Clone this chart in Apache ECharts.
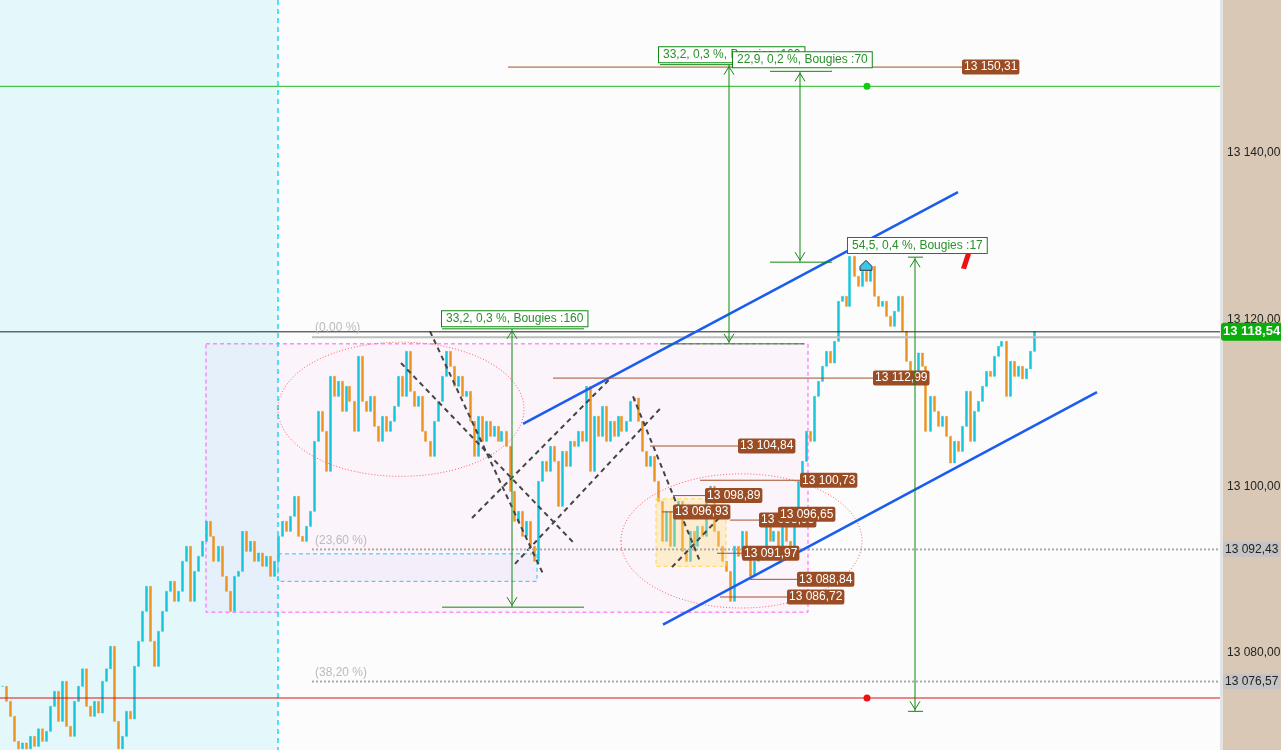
<!DOCTYPE html>
<html>
<head>
<meta charset="utf-8">
<title>Graphique</title>
<script src="https://cdn.jsdelivr.net/npm/echarts@6/dist/echarts.min.js"></script>
<style>
html, body { margin: 0; padding: 0; background: #fcfcfc; }
#chart { width: 1281px; height: 750px; }
</style>
</head>
<body>
<div id="chart"></div>
<script>
// cours de clôture (une bougie ~ 4 px)
var closes = [
    13076.0, 13074.2, 13072.4, 13069.4, 13068.5, 13069.2, 13068.5, 13070.0, 13068.8, 13070.9,
    13069.4, 13070.6, 13073.6, 13075.4, 13071.8, 13076.6, 13071.2, 13070.0, 13074.2, 13076.0,
    13078.1, 13073.6, 13072.4, 13074.2, 13072.8, 13076.6, 13078.1, 13080.8, 13071.8, 13068.5,
    13070.0, 13073.0, 13072.1, 13078.4, 13081.4, 13085.0, 13088.0, 13081.4, 13078.4, 13082.6,
    13085.0, 13087.4, 13088.6, 13086.2, 13087.4, 13091.0, 13092.8, 13086.2, 13089.8, 13091.6,
    13093.4, 13095.8, 13094.0, 13091.0, 13092.8, 13089.2, 13087.4, 13085.0, 13089.2, 13089.8,
    13094.6, 13092.2, 13093.4, 13091.0, 13092.0, 13090.4, 13091.6, 13089.2, 13091.0, 13094.0,
    13095.8, 13094.6, 13096.4, 13098.8, 13094.0, 13093.4, 13095.2, 13097.0, 13105.4, 13109.0,
    13106.6, 13101.8, 13113.2, 13110.8, 13112.6, 13109.0, 13112.0, 13110.2, 13106.6, 13115.6,
    13110.2, 13109.0, 13110.8, 13107.2, 13105.4, 13108.4, 13106.6, 13107.8, 13109.6, 13113.2,
    13110.8, 13116.2, 13111.4, 13109.6, 13110.8, 13106.6, 13105.4, 13103.6, 13107.8, 13110.2,
    13113.2, 13116.2, 13114.4, 13112.0, 13113.2, 13110.8, 13111.4, 13107.8, 13103.6, 13108.4,
    13105.4, 13107.8, 13106.0, 13107.2, 13105.4, 13106.6, 13104.8, 13099.4, 13095.8, 13097.0,
    13094.0, 13095.8, 13092.8, 13091.0, 13100.6, 13103.0, 13101.8, 13104.8, 13103.0, 13097.6,
    13104.2, 13102.4, 13105.4, 13104.8, 13106.6, 13105.4, 13112.0, 13101.8, 13108.4, 13106.0,
    13109.6, 13105.4, 13107.8, 13106.0, 13108.4, 13106.6, 13107.8, 13110.2, 13110.6, 13107.8,
    13104.2, 13102.4, 13103.6, 13100.6, 13098.2, 13093.4, 13097.0, 13092.8, 13096.4, 13098.2,
    13092.2, 13091.0, 13094.6, 13092.8, 13095.2, 13094.0, 13098.2, 13100.0, 13094.6, 13092.8,
    13091.0, 13089.8, 13086.2, 13092.8, 13091.6, 13094.6, 13092.8, 13089.2, 13091.0, 13092.2,
    13092.8, 13095.2, 13093.4, 13094.6, 13092.8, 13095.2, 13093.4, 13091.6, 13096.4, 13100.6,
    13103.0, 13106.6, 13105.4, 13110.8, 13112.6, 13114.4, 13116.2, 13114.8, 13117.4, 13122.2,
    13122.8, 13121.6, 13127.6, 13125.2, 13124.0, 13125.8, 13124.6, 13126.4, 13122.8, 13121.6,
    13122.2, 13120.4, 13119.2, 13121.0, 13122.8, 13118.6, 13115.0, 13112.6, 13113.2, 13116.0,
    13114.4, 13106.6, 13110.8, 13109.0, 13107.2, 13108.4, 13106.0, 13102.8, 13105.4, 13104.2,
    13107.2, 13111.4, 13105.4, 13109.0, 13110.2, 13112.0, 13113.8, 13113.2, 13115.6, 13116.8,
    13117.4, 13110.8, 13115.0, 13113.2, 13114.4, 13112.9, 13114.1, 13116.2, 13118.54
];
var nSlots = 305;
var yMin = 13068.36, yMax = 13158.36;
var yTicks = [13080, 13100, 13120, 13140];
var lastPrice = 13118.54;

// niveaux de Fibonacci [libellé, prix]
var fibNames = ['(0,00 %)', '(23,60 %)', '(38,20 %)'];
var fibValues = [13117.9, 13092.43, 13076.57];

// étiquettes de prix : prix, début du trait, position de l'étiquette (en bougies)
var tagPrices = [13150.31, 13112.99, 13104.84, 13100.73, 13098.89, 13096.93, 13095.95, 13096.65, 13091.97, 13088.84, 13086.72];
var tagFrom   = [127, 138.25, 162.5, 175, 168.25, 165.5, 182.5, 190, 179.25, 187.5, 180];
var tagAt     = [240.5, 218.25, 184.5, 200, 176.25, 168.25, 189.75, 194.5, 185.5, 199.25, 196.75];

// outils de mesure
var measureText = ['33,2, 0,3 %, Bougies :160', '33,2, 0,3 %, Bougies :160', '22,9, 0,2 %, Bougies :70', '54,5, 0,4 %, Bougies :17'];
var measureBox  = [[110.5, 13120.1], [164.75, 13151.8], [183.25, 13151.2], [212, 13128.9]];
var measureX    = [128, 182.25, 200, 228.75];
var measureTop  = [13118.9, 13150.6, 13149.8, 13127.5];
var measureBot  = [13085.5, 13117.1, 13126.9, 13073.0];
var measureSpan = [[110.5, 146], [165, 201], [192.5, 208], [227, 230.75]];

function fr(v) {
    var s = v.toFixed(2).split('.');
    return s[0].replace(/\B(?=(\d{3})+(?!\d))/g, ' ') + ',' + s[1];
}

var cats = [];
for (var i = 0; i < nSlots; i++) cats.push(String(i));
var candles = [];
for (var i = 0; i < closes.length; i++) {
    var o = i === 0 ? closes[0] : closes[i - 1];
    var c = closes[i];
    candles.push([o, c, Math.min(o, c), Math.max(o, c)]);
}

var FONT = '12px "Liberation Sans", Arial, sans-serif';

var chart = echarts.init(document.getElementById('chart'));
chart.setOption({
    backgroundColor: '#fcfcfc',
    animation: false,
    grid: { left: 0, right: 61, top: 0, bottom: 0, outerBoundsMode: 'none', containLabel: false },
    xAxis: {
        type: 'category',
        data: cats,
        show: false
    },
    yAxis: {
        type: 'value',
        position: 'right',
        min: yMin,
        max: yMax,
        axisLine: { show: false },
        axisTick: { show: false },
        splitLine: { show: false },
        axisLabel: {
            customValues: yTicks,
            margin: 7,
            color: '#222',
            fontSize: 12,
            fontFamily: '"Liberation Sans", Arial, sans-serif',
            formatter: function (v) { return fr(v); }
        }
    },
    series: [{
        type: 'candlestick',
        data: candles,
        barWidth: 2.5,
        silent: true,
        itemStyle: {
            color: '#17c6da',
            color0: '#ec9422',
            borderColor: '#17c6da',
            borderColor0: '#ec9422',
            borderWidth: 0.5
        }
    }]
});

function drawNotes() {
    var p0 = chart.convertToPixel({ xAxisIndex: 0 }, '0');
    var p1 = chart.convertToPixel({ xAxisIndex: 0 }, '1');
    var band = p1 - p0;
    var left = p0 - band / 2;
    var W = left + band * nSlots;
    var H = chart.getHeight();
    function X(b) { return left + b * band; }
    function Y(p) { return chart.convertToPixel({ yAxisIndex: 0 }, p); }
    var g = [];
    function line(b1, q1, b2, q2, style, z) {
        g.push({ type: 'line', z: z || 10, silent: true,
            shape: { x1: X(b1), y1: Y(q1), x2: X(b2), y2: Y(q2) }, style: style });
    }
    function box(b1, q1, b2, q2, style, z) {
        g.push({ type: 'rect', z: z || 1, silent: true,
            shape: { x: X(b1), y: Y(q1), width: X(b2) - X(b1), height: Y(q2) - Y(q1) }, style: style });
    }

    // fonds
    g.push({ type: 'rect', z: -1, shape: { x: 0, y: 0, width: X(69.5), height: H }, style: { fill: '#e4f8fb' } });
    g.push({ type: 'rect', z: -1, shape: { x: W, y: 0, width: chart.getWidth() - W, height: H }, style: { fill: '#d9c8b5' } });
    g.push({ type: 'rect', z: -1, shape: { x: W, y: 0, width: 3, height: H }, style: { fill: '#e3e3e3' } });

    box(51.5, 13117.1, 202, 13084.9, { fill: 'rgba(255,150,240,0.08)', stroke: '#ff55ff', lineWidth: 1, lineDash: [4, 3] });
    box(69.5, 13091.9, 134.25, 13088.6, { fill: 'rgba(120,150,255,0.06)', stroke: '#22ccee', lineWidth: 1, lineDash: [4, 3] });
    box(164, 13098.5, 181.5, 13090.4, { fill: 'rgba(255,220,120,0.35)', stroke: '#ffd84a', lineWidth: 1, lineDash: [4, 3] }, 3);

    g.push({ type: 'line', z: 5, shape: { x1: X(69.5), y1: 0, x2: X(69.5), y2: H },
        style: { stroke: '#22d3f0', lineWidth: 1.5, lineDash: [5, 4] } });

    // lignes horizontales
    line(0, 13148.0, nSlots, 13148.0, { stroke: '#22bb22', lineWidth: 1 });
    line(0, 13074.6, nSlots, 13074.6, { stroke: '#dd1111', lineWidth: 1 });
    line(78, fibValues[0], nSlots, fibValues[0], { stroke: '#bdbdbd', lineWidth: 2 });
    line(78, fibValues[1], nSlots, fibValues[1], { stroke: '#aaaaaa', lineWidth: 2, lineDash: [2, 2] });
    line(78, fibValues[2], nSlots, fibValues[2], { stroke: '#aaaaaa', lineWidth: 2, lineDash: [2, 2] });
    line(0, lastPrice, nSlots, lastPrice, { stroke: '#222', lineWidth: 1 });
    for (var k = 0; k < fibNames.length; k++) {
        g.push({ type: 'text', z: 10, style: { text: fibNames[k], x: X(78.75), y: Y(fibValues[k]) - 9,
            font: FONT, fill: '#bbbbbb', verticalAlign: 'middle' } });
    }
    g.push({ type: 'circle', z: 12, shape: { cx: X(216.75), cy: Y(13148.0), r: 3.5 }, style: { fill: '#11cc11' } });
    g.push({ type: 'circle', z: 12, shape: { cx: X(216.75), cy: Y(13074.6), r: 3.5 }, style: { fill: '#ee1111' } });

    // ellipses
    var ells = [[69.5, 131, 13117.3, 13101.2], [155.25, 215.5, 13101.5, 13085.4]];
    ells.forEach(function (e) {
        var x1 = X(e[0]), x2 = X(e[1]), y1 = Y(e[2]), y2 = Y(e[3]);
        g.push({ type: 'ellipse', z: 8, silent: true,
            shape: { cx: (x1 + x2) / 2, cy: (y1 + y2) / 2, rx: (x2 - x1) / 2, ry: (y2 - y1) / 2 },
            style: { fill: 'none', stroke: '#ff6060', lineWidth: 1, lineDash: [1, 2] } });
    });

    // lignes pointillées
    var dashes = [
        [107.5, 13118.6, 135.75, 13089.5],
        [100.25, 13114.8, 143.25, 13093.3],
        [118, 13096.2, 152.5, 13112.9],
        [128.75, 13090.7, 165, 13109.3],
        [158.25, 13110.8, 175, 13091.0],
        [168, 13090.3, 180.75, 13096.7]
    ];
    dashes.forEach(function (d) {
        line(d[0], d[1], d[2], d[3], { stroke: '#444', lineWidth: 2, lineDash: [5, 4] }, 9);
    });

    // canal
    line(130.75, 13107.5, 239.5, 13135.3, { stroke: '#1a5cf0', lineWidth: 2.5 }, 11);
    line(165.75, 13083.4, 274.25, 13111.3, { stroke: '#1a5cf0', lineWidth: 2.5 }, 11);

    // étiquettes de prix
    for (var k = 0; k < tagPrices.length; k++) {
        line(tagFrom[k], tagPrices[k], tagAt[k], tagPrices[k], { stroke: '#a0522d', lineWidth: 1 }, 12);
        g.push({ type: 'text', z: 13 + k * 0.01, z2: k, style: {
            text: fr(tagPrices[k]), x: X(tagAt[k]), y: Y(tagPrices[k]),
            font: FONT, fill: '#fff', verticalAlign: 'middle',
            backgroundColor: '#9a4d24', padding: [2, 2, 1, 2], borderRadius: 2 } });
    }

    // mesures
    for (var k = 0; k < measureText.length; k++) {
        var mx = X(measureX[k]), yt = Y(measureTop[k]), yb = Y(measureBot[k]);
        var sp = measureSpan[k];
        line(sp[0], measureTop[k], sp[1], measureTop[k], { stroke: '#118811', lineWidth: 1 }, 14);
        line(sp[0], measureBot[k], sp[1], measureBot[k], { stroke: '#118811', lineWidth: 1 }, 14);
        g.push({ type: 'line', z: 14, shape: { x1: mx, y1: yt, x2: mx, y2: yb }, style: { stroke: '#118811', lineWidth: 1 } });
        g.push({ type: 'polyline', z: 14, shape: { points: [[mx - 5, yt + 10], [mx, yt + 2], [mx + 5, yt + 10]] }, style: { stroke: '#118811', lineWidth: 1 } });
        g.push({ type: 'polyline', z: 14, shape: { points: [[mx - 5, yb - 10], [mx, yb - 2], [mx + 5, yb - 10]] }, style: { stroke: '#118811', lineWidth: 1 } });
        g.push({ type: 'text', z: 15, z2: k, style: {
            text: measureText[k], x: X(measureBox[k][0]), y: Y(measureBox[k][1]),
            font: FONT, fill: '#2a8f2a', verticalAlign: 'middle',
            backgroundColor: '#fff', borderColor: '#118811', borderWidth: 1, padding: [2, 4, 1, 4] } });
    }

    // repères
    var hx = X(216.5), hy = Y(13126.4);
    g.push({ type: 'polygon', z: 16, shape: { points: [[hx - 6, hy + 4], [hx - 6, hy], [hx, hy - 6], [hx + 6, hy], [hx + 6, hy + 4]] },
        style: { fill: '#3cc6e8', stroke: '#333', lineWidth: 1 } });
    var rx = X(241.5), ry = Y(13127.0);
    g.push({ type: 'polygon', z: 16, shape: { points: [[rx - 5, ry + 7], [rx, ry + 8], [rx + 5, ry - 7], [rx, ry - 8]] },
        style: { fill: '#ee1111' } });

    // étiquettes de l'axe
    g.push({ type: 'text', z: 30, style: { text: fr(lastPrice), x: W + 1, y: Y(lastPrice),
        font: 'bold 13px "Liberation Sans", Arial, sans-serif', fill: '#fff', verticalAlign: 'middle',
        backgroundColor: '#0aad0a', padding: [3, 3, 2, 2], borderRadius: 3 } });
    [fibValues[1], fibValues[2]].forEach(function (v) {
        g.push({ type: 'text', z: 30, style: { text: fr(v), x: W + 3, y: Y(v),
            font: FONT, fill: '#222', verticalAlign: 'middle',
            backgroundColor: '#c4c4c4', padding: [2, 2, 1, 2], borderRadius: 2 } });
    });

    chart.setOption({ graphic: { elements: g } });
}
drawNotes();
</script>
</body>
</html>
